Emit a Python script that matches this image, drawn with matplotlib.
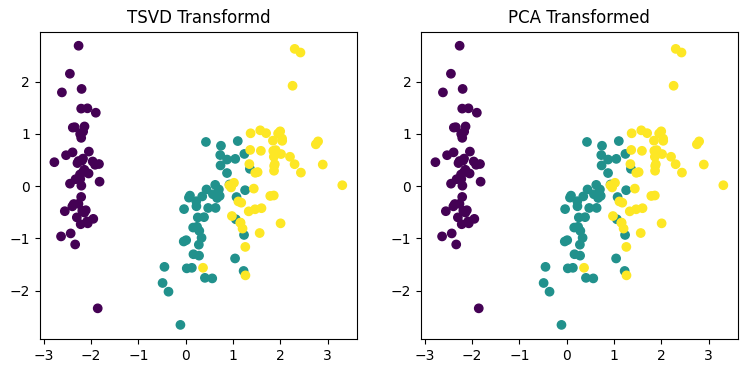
import numpy as np
import matplotlib.pyplot as plt

# iris, standardised, first two components (x, y)
pc1 = [-2.2647, -2.0810, -2.3642, -2.2994, -2.3898, -2.0756, -2.4440, -2.2328, -2.3346, -2.1843,
       -2.1663, -2.3261, -2.2185, -2.6331, -2.1987, -2.2622, -2.2076, -2.1904, -1.8986, -2.3434,
       -1.9143, -2.2070, -2.7743, -1.8187, -2.2272, -1.9518, -2.0512, -2.1686, -2.1396, -2.2653,
       -2.1401, -1.8316, -2.6149, -2.4462, -2.1100, -2.2078, -2.0451, -2.5273, -2.4296, -2.1697,
       -2.2865, -1.8581, -2.5536, -1.9644, -2.1371, -2.0697, -2.3847, -2.3944, -2.2294, -2.2038,
       1.1018, 0.7313, 1.2410, 0.4075, 1.0755, 0.3887, 0.7465, -0.4873, 0.9279, 0.0114,
       -0.1102, 0.4407, 0.5621, 0.7196, -0.0334, 0.8755, 0.3503, 0.1588, 1.2251, 0.1649,
       0.7377, 0.4763, 1.2341, 0.6329, 0.7027, 0.8743, 1.2565, 1.3584, 0.6648, -0.0403,
       0.1308, 0.0235, 0.2415, 1.0611, 0.2240, 0.4292, 1.0487, 1.0445, 0.0696, 0.2835,
       0.2791, 0.6249, 0.3365, -0.3622, 0.2886, 0.0914, 0.2277, 0.5764, -0.4477, 0.2567,
       1.8446, 1.1579, 2.2053, 1.4402, 1.8678, 2.7519, 0.3670, 2.3024, 2.0065, 2.2598,
       1.3642, 1.6027, 1.8839, 1.2606, 1.4676, 1.5901, 1.4714, 2.4263, 3.3107, 1.2638,
       2.0377, 0.9780, 2.8977, 1.3332, 1.7007, 1.9543, 1.1751, 1.0210, 1.7883, 1.8636,
       2.4360, 2.3049, 1.8627, 1.1141, 1.2027, 2.7988, 1.5763, 1.3463, 0.9248, 1.8520,
       2.0162, 1.9018, 1.1579, 2.0406, 1.9981, 1.8705, 1.5646, 1.5212, 1.3728, 0.9607]
pc2 = [0.4800, -0.6741, -0.3419, -0.5974, 0.6468, 1.4892, 0.0476, 0.2231, -1.1153, -0.4690,
       1.0437, 0.1331, -0.7287, -0.9615, 1.8601, 2.6863, 1.4836, 0.4888, 1.4050, 1.1278,
       0.4089, 0.9241, 0.4583, 0.0856, 0.1373, -0.6256, 0.2422, 0.5272, 0.3132, -0.3377,
       -0.5045, 0.4237, 1.7936, 2.1507, -0.4602, -0.2061, 0.6616, 0.5923, -0.9042, 0.2689,
       0.4417, -2.3374, -0.4791, 0.4723, 1.1422, -0.7111, 1.1204, -0.3862, 0.9980, 0.0092,
       0.8630, 0.5946, 0.6163, -1.7544, -0.2084, -0.5933, 0.7730, -1.8524, 0.0322, -1.0334,
       -2.6541, -0.0633, -1.7647, -0.1862, -0.4390, 0.5091, -0.1963, -0.7921, -1.6224, -1.3026,
       0.3966, -0.4173, -0.9333, -0.4164, -0.0634, 0.2508, -0.0773, 0.3313, -0.2259, -1.0587,
       -1.5623, -1.5725, -0.7773, -0.6338, -0.2878, 0.8456, 0.5220, -1.3830, -0.2195, -1.3293,
       -1.1200, 0.0249, -0.9884, -2.0192, -0.8557, -0.1812, -0.3847, -0.1549, -1.5438, -0.5989,
       0.8704, -0.6989, 0.5620, -0.0470, 0.2950, 0.8004, -1.5615, 0.4201, -0.7114, 1.9210,
       0.6928, -0.4217, 0.4192, -1.1623, -0.4423, 0.6762, 0.2556, 2.5567, 0.0178, -1.7067,
       0.9105, -0.5718, 0.4136, -0.4818, 1.0139, 1.0078, -0.3164, 0.0643, -0.1874, 0.5623,
       0.2593, 2.6263, -0.1785, -0.2923, -0.8113, 0.8568, 1.0686, 0.4224, 0.0172, 0.6761,
       0.6140, 0.6896, -0.6989, 0.8675, 1.0492, 0.3870, -0.8967, 0.2691, 1.0113, -0.0243]
species = [0] * 50 + [1] * 50 + [2] * 50

fig = plt.figure(figsize=(7.47, 3.74), dpi=100)
ax1 = fig.add_axes([0.0535, 0.094, 0.424, 0.821])
ax2 = fig.add_axes([0.5636, 0.094, 0.424, 0.821])

ax1.scatter(pc1, pc2, c=species)
ax1.set_title("TSVD Transformd")
ax2.scatter(pc1, pc2, c=species)
ax2.set_title("PCA Transformed")

fig.savefig("out.png")
